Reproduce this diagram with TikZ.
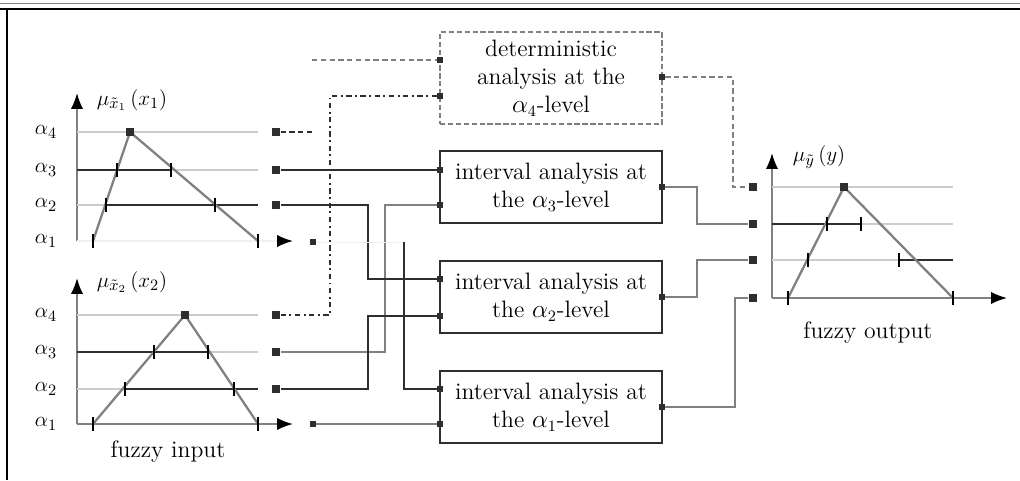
\documentclass[tikz,border=0pt]{standalone}
\usetikzlibrary{arrows.meta}
\definecolor{dk}{gray}{0.18}
\definecolor{md}{gray}{0.5}
\definecolor{lt}{gray}{0.8}
\tikzstyle{block} = [draw=dk, line width=0.9pt, text centered, minimum width=4.44cm, minimum height=1.44cm, font=\fontsize{13.5}{16}\selectfont]
\tikzstyle{dblock} = [block, draw=md, dash pattern=on 3pt off 1.5pt, minimum height=1.84cm]
\tikzstyle{port} = [fill=dk, inner sep=0pt, minimum size=0.12cm]
\tikzstyle{bigport} = [port, minimum size=0.17cm]
\tikzstyle{axis} = [md, line width=1.1pt, -{Latex[length=9pt,width=7pt,color=black]}]
\tikzstyle{level} = [dk, line width=1.1pt]
\tikzstyle{faint} = [lt, line width=1.3pt]
\tikzstyle{fuzzy} = [md, line width=1.3pt]
\tikzstyle{cut} = [black, line width=1.1pt]
\tikzstyle{lab} = [font=\fontsize{12.5}{15}\selectfont]
\tikzstyle{caption} = [font=\fontsize{13.5}{16}\selectfont]

\begin{document}
\begin{tikzpicture}[x=0.02cm, y=-0.02cm]
		\useasboundingbox (0,0) rectangle (1020,480);
		\draw [md, line width=0.5pt] (0,3) -- (1020,3);
		\draw [black, line width=1.5pt] (0,9) -- (1020,9);
		\draw [black, line width=1.5pt] (7,9) -- (7,480);

		\node [dblock, align = center] at (551, 78) (1) {deterministic\\analysis at the\\$\alpha_4$-level};
		\node [block, align = center] at (551, 187) (2) {interval analysis at\\the $\alpha_3$-level};
		\node [block, align = center] at (551, 297) (3) {interval analysis at\\the $\alpha_2$-level};
		\node [block, align = center] at (551, 407) (4) {interval analysis at\\the $\alpha_1$-level};

		\draw [axis] (77, 241) -- (77, 93);
		\draw [axis, draw=gray!12] (77, 241) -- (293, 241);
		\draw [faint] (77, 132) -- (258, 132);
		\draw [level] (77, 170) -- (171, 170);
		\draw [faint] (171, 170) -- (258, 170);
		\draw [faint] (77, 205) -- (106, 205);
		\draw [level] (106, 205) -- (258, 205);
		\draw [fuzzy] (93, 241) -- (130, 132) -- (258, 241);
		\foreach \x/\y in {117/170, 171/170, 106/205, 215/205, 93/241, 258/241}
			\draw [cut] (\x, \y-7) -- (\x, \y+7);
		\node [bigport] at (130, 132) (81) {};
		\node [lab] at (132, 100) {$\mu_{\tilde{x}_1}\,(x_1)$};
		\foreach \y/\i in {132/4, 170/3, 205/2, 241/1}
			\node [lab] at (46, \y) {$\alpha_\i$};

		\draw [axis] (77, 424) -- (77, 278);
		\draw [axis] (77, 424) -- (293, 424);
		\draw [faint] (77, 315) -- (258, 315);
		\draw [level] (77, 352) -- (208, 352);
		\draw [faint] (208, 352) -- (258, 352);
		\draw [faint] (77, 389) -- (125, 389);
		\draw [level] (125, 389) -- (258, 389);
		\draw [fuzzy] (93, 424) -- (185, 315) -- (258, 424);
		\foreach \x/\y in {154/352, 208/352, 125/389, 234/389, 93/424, 258/424}
			\draw [cut] (\x, \y-7) -- (\x, \y+7);
		\node [bigport] at (185, 315) (82) {};
		\node [lab] at (132, 282) {$\mu_{\tilde{x}_2}\,(x_2)$};
		\foreach \y/\i in {315/4, 352/3, 389/2, 424/1}
			\node [lab] at (46, \y) {$\alpha_\i$};
		\node [caption] at (168, 452) {fuzzy input};

		\draw [axis] (772, 298) -- (772, 153);
		\draw [axis] (772, 298) -- (1007, 298);
		\draw [faint] (772, 187) -- (953, 187);
		\draw [level] (772, 224) -- (861, 224);
		\draw [faint] (861, 224) -- (953, 224);
		\draw [faint] (772, 260) -- (899, 260);
		\draw [level] (899, 260) -- (953, 260);
		\draw [fuzzy] (788, 298) -- (844, 187) -- (953, 298);
		\foreach \x/\y in {827/224, 861/224, 808/260, 899/260, 788/298, 953/298}
			\draw [cut] (\x, \y-7) -- (\x, \y+7);
		\node [bigport] at (844, 187) (83) {};
		\node [lab] at (819, 157) {$\mu_{\tilde{y}}\,(y)$};
		\node [caption] at (868, 333) {fuzzy output};

		\node [port] at (440, 60) (11) {};
		\node [port] at (440, 96) (12) {};
		\node [port] at (662, 77) (13) {};
		\node [port] at (440, 170) (21) {};
		\node [port] at (440, 205) (22) {};
		\node [port] at (662, 187) (23) {};
		\node [port] at (440, 279) (31) {};
		\node [port] at (440, 316) (32) {};
		\node [port] at (662, 297) (33) {};
		\node [port] at (440, 389) (41) {};
		\node [port] at (440, 424) (42) {};
		\node [port] at (662, 407) (43) {};
		\node [bigport] at (276, 132) (51) {};
		\node [bigport] at (276, 170) (52) {};
		\node [bigport] at (276, 205) (53) {};
		\node [port] at (313, 242) (54) {};
		\node [bigport] at (276, 315) (61) {};
		\node [bigport] at (276, 352) (62) {};
		\node [bigport] at (276, 389) (63) {};
		\node [port] at (313, 424) (64) {};
		\node [bigport] at (753, 187) (71) {};
		\node [bigport] at (753, 224) (72) {};
		\node [bigport] at (753, 260) (73) {};
		\node [bigport] at (753, 298) (74) {};
		\coordinate (5) at (312, 60);
		\coordinate (6) at (312, 132);
		\coordinate (7) at (404, 242);

		\draw [md, line width=0.8pt, densely dashed] (5) -- (11);
		\draw [dk, line width=0.8pt, densely dashed] (51) -- (6);
		\draw [dk, line width=1.1pt, dash dot] (61) -- ++(54, 0) |- (12);
		\draw [dk, line width=1pt] (52) -- (21);
		\draw [md, line width=1pt] (62) -- ++(109, 0) |- (22);
		\draw [dk, line width=1pt] (53) -- ++(92, 0) |- (31);
		\draw [dk, line width=1pt] (63) -- ++(92, 0) |- (32);
		\draw [gray!12, line width=0.4pt] (54) -- (7);
		\draw [dk, line width=1.3pt] (7) |- (41);
		\draw [md, line width=0.8pt] (64) -- (42);
		\draw [md, line width=0.8pt, densely dashed] (13) -- ++(71, 0) |- (71);
		\draw [md, line width=1pt] (23) -- ++(35, 0) |- (72);
		\draw [md, line width=1pt] (33) -- ++(35, 0) |- (73);
		\draw [md, line width=1pt] (43) -- ++(73, 0) |- (74);
	\end{tikzpicture}
\end{document}
